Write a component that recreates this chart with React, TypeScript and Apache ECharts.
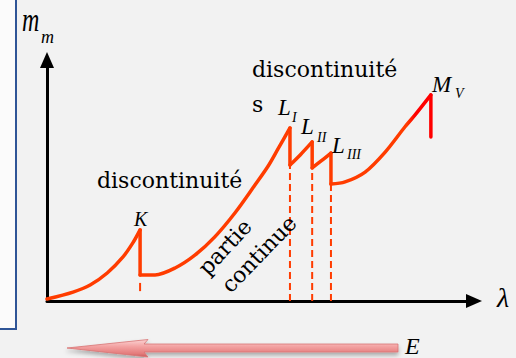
import { useEffect, useRef } from "react";
import * as echarts from "echarts";

// Absorption curve μm(λ): smooth branches between absorption edges (arbitrary units).
const branchBeforeK = [[0, 0.8], [6.1, 3.7], [10.1, 6.6], [14.1, 11.6], [17.8, 18.3], [20.1, 24.1], [21.8, 29.5]];
const branchKtoLI = [[21.8, 10.8], [25.3, 10.8], [30.0, 13.7], [34.7, 19.1], [39.3, 26.6], [44.0, 36.5], [48.7, 48.1], [51.8, 56.0], [54.1, 63.1], [56.9, 71.8]];
const branchLItoLII = [[56.9, 56.4], [59.3, 60.6], [62.1, 66.0]];
const branchLIItoLIII = [[62.1, 55.2], [64.2, 58.1], [66.5, 61.4]];
const branchLIIItoMV = [[66.5, 48.5], [69.8, 49.4], [74.5, 53.5], [79.2, 61.8], [83.8, 72.2], [86.2, 77.2], [89.9, 85.5]];
const branches = [branchBeforeK, branchKtoLI, branchLItoLII, branchLIItoLIII, branchLIIItoMV];
const mvFoot = 68.0;
// short guide mark under the K edge
const kTick = [4.1, 7.5];

const edgeNames = ["K", "L", "L", "L", "M"];
const edgeSubs = ["", "I", "II", "III", "V"];

const ORANGE = "#ff3c00";
const RED = "#ff0000";

export default function App() {
  const ref = useRef<HTMLDivElement>(null);

  useEffect(() => {
    document.body.style.margin = "0";
    const chart = echarts.init(ref.current!, null, { renderer: "svg" });

    const series: any[] = [];
    const last = branches.length - 1;
    const tailGradient = new echarts.graphic.LinearGradient(0, 0, 1, 0, [
      { offset: 0, color: ORANGE },
      { offset: 0.76, color: ORANGE },
      { offset: 0.84, color: RED },
      { offset: 1, color: RED },
    ]);

    branches.forEach((b, i) => {
      series.push({
        type: "line",
        data: b,
        smooth: 0.3,
        symbol: "none",
        silent: true,
        z: 4,
        lineStyle: { color: i === last ? tailGradient : ORANGE, width: 3.5, cap: "round", join: "round" },
      });
    });

    // vertical drops at each absorption edge
    branches.forEach((b, i) => {
      const peak = b[b.length - 1];
      const foot = i < last ? branches[i + 1][0] : [peak[0], mvFoot];
      series.push({
        type: "line",
        data: [peak, foot],
        symbol: "none",
        silent: true,
        z: 4,
        lineStyle: { color: i === last ? RED : ORANGE, width: 3.5, cap: "round" },
      });
      // dashed guides from the L edges down to the λ axis
      if (edgeNames[i] === "L") {
        series.push({
          type: "line",
          data: [[foot[0], 0], foot],
          symbol: "none",
          silent: true,
          z: 3,
          lineStyle: { color: ORANGE, width: 2, type: [7, 4] },
        });
      }
    });

    const kx = branchBeforeK[branchBeforeK.length - 1][0];
    series.push({
      type: "line",
      data: [[kx, kTick[0]], [kx, kTick[1]]],
      symbol: "none",
      silent: true,
      z: 3,
      lineStyle: { color: ORANGE, width: 2 },
    });

    const serif = '"Liberation Serif", "Times New Roman", serif';
    const wide = '"DejaVu Serif", serif';
    const txt = (text: string, x: number, y: number, font: string, extra: any = {}) => ({
      type: "text",
      x,
      y,
      z: 10,
      silent: true,
      ...extra,
      style: {
        text,
        font,
        fill: "#000",
        align: extra.align || "left",
        verticalAlign: "middle",
        textAlign: extra.align || "left",
        textVerticalAlign: "middle",
      },
    });

    // edge labels
    const labelPos = [
      { x: 134, y: 218.5, sx: 0, sy: 0 },
      { x: 278, y: 107.5, sx: 292, sy: 117.5 },
      { x: 301, y: 126.5, sx: 317, sy: 137.5 },
      { x: 332, y: 145, sx: 347, sy: 154.5 },
      { x: 432, y: 84.5, sx: 455, sy: 93 },
    ];
    const edgeTexts: any[] = [];
    edgeNames.forEach((n, i) => {
      const p = labelPos[i];
      edgeTexts.push(txt(n, p.x, p.y, `italic ${i === 0 ? 20 : 23}px ${serif}`));
      if (edgeSubs[i]) edgeTexts.push(txt(edgeSubs[i], p.sx, p.sy, `italic 14px ${serif}`));
    });

    const arrowPts = [
      [67, 348], [148, 339.5], [144, 344], [398, 344], [398, 352], [144, 352], [148, 357],
    ];

    chart.setOption({
      animation: false,
      backgroundColor: "#f2f2f2",
      grid: { left: 47, right: 42, top: 60, bottom: 57 },
      xAxis: {
        type: "value",
        min: 0,
        max: 100,
        axisLine: { lineStyle: { color: "#000", width: 3 }, symbol: ["none", "triangle"], symbolSize: [14, 16] },
        axisTick: { show: false },
        axisLabel: { show: false },
        splitLine: { show: false },
      },
      yAxis: {
        type: "value",
        min: 0,
        max: 100,
        axisLine: { show: true, lineStyle: { color: "#000", width: 3 }, symbol: ["none", "triangle"], symbolSize: [14, 16] },
        axisTick: { show: false },
        axisLabel: { show: false },
        splitLine: { show: false },
      },
      series,
      graphic: [
        { type: "rect", shape: { x: 0, y: 0, width: 16, height: 329 }, style: { fill: "#fbfbfb" }, z: -10, silent: true },
        {
          type: "polyline",
          shape: { points: [[16, 0], [16, 329], [0, 329]] },
          style: { stroke: "#2f5597", lineWidth: 2, fill: "none" },
          z: 1,
          silent: true,
        },
        txt("m", 22, 19.5, `italic 30px ${serif}`, { scaleX: 0.8, scaleY: 1.15 }),
        txt("m", 41, 37, `italic 18px ${serif}`),
        txt("λ", 497, 297, `italic 28px ${serif}`),
        txt("discontinuité", 97, 180.4, `22px ${wide}`),
        txt("discontinuité", 252, 69.4, `22px ${wide}`),
        txt("s", 252, 104, `22px ${wide}`),
        txt("partie", 225, 247, `22px ${wide}`, { align: "center", rotation: (47 * Math.PI) / 180 }),
        txt("continue", 259, 254, `22px ${wide}`, { align: "center", rotation: (46 * Math.PI) / 180 }),
        ...edgeTexts,
        {
          type: "polygon",
          shape: { points: arrowPts },
          z: 2,
          silent: true,
          style: {
            fill: new echarts.graphic.LinearGradient(0, 0, 0, 1, [
              { offset: 0, color: "#fbd4d4" },
              { offset: 0.4, color: "#f3a2a2" },
              { offset: 0.8, color: "#e47c7c" },
              { offset: 1, color: "#c85e5e" },
            ]),
            stroke: "#d87474",
            lineWidth: 0.8,
            shadowBlur: 4,
            shadowOffsetY: 3,
            shadowColor: "rgba(0,0,0,0.3)",
          },
        },
        txt("E", 405, 346, `italic 24px ${serif}`),
      ],
    });

    return () => chart.dispose();
  }, []);

  return (
    <div
      ref={ref}
      style={{ position: "absolute", left: 0, top: 0, width: 516, height: 358, background: "#f2f2f2" }}
    />
  );
}
